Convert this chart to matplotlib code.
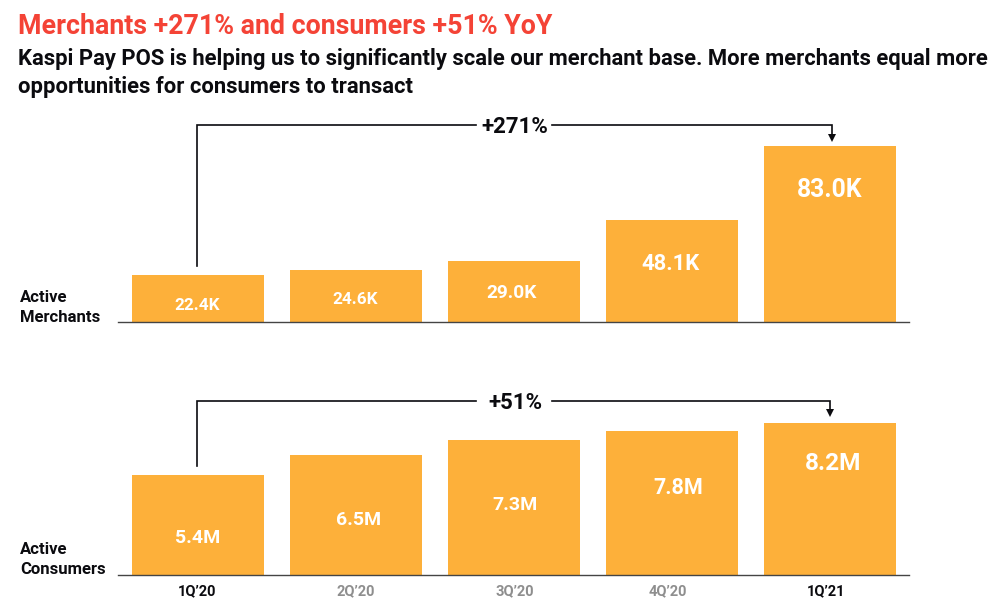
import matplotlib
matplotlib.use("Agg")
import matplotlib.pyplot as plt
from matplotlib.lines import Line2D
from matplotlib.patches import Polygon

# ------------------ DATA ------------------
quarters = ["1Q'20", "2Q'20", "3Q'20", "4Q'20", "1Q'21"]
merchants = [22.4, 24.6, 29.0, 48.1, 83.0]
consumers = [5.4, 6.5, 7.3, 7.8, 8.2]
merchant_labels = ["22.4K", "24.6K", "29.0K", "48.1K", "83.0K"]
consumer_labels = ["5.4M", "6.5M", "7.3M", "7.8M", "8.2M"]
merchant_growth = "+271%"
consumer_growth = "+51%"

W, H = 1000, 607
ORANGE = "#FDB03A"
RED = "#F44336"
BLACK = "#0B0B0F"
GREY = "#8E8E8E"

plt.rcParams["font.family"] = ["Roboto", "DejaVu Sans"]

fig = plt.figure(figsize=(W / 100, H / 100), dpi=100)


def px(x, y):
    return x / W, 1 - y / H


def panel(values, labels, base, scale, label_x, label_y, sizes):
    # axes spans the baseline width, 200px tall
    ax = fig.add_axes([118 / W, 1 - base / H, (909 - 118) / W, 200 / H])
    ax.set_xlim((118 - 197.5) / 158, (909 - 197.5) / 158)
    ax.set_ylim(0, 200 / scale)
    ax.bar(range(5), values, width=132 / 158, color=ORANGE)
    for i, lab in enumerate(labels):
        fig.text(*px(label_x[i], label_y[i]), lab, color="white", fontweight="bold",
                 fontsize=sizes[i], ha="center", va="center")
    ax.set_yticks([])
    ax.set_xticks([])
    for s in ["top", "left", "right"]:
        ax.spines[s].set_visible(False)
    ax.spines["bottom"].set_color("#444444")
    ax.spines["bottom"].set_linewidth(1.0)
    ax.patch.set_alpha(0)
    return ax


def bracket(y_top, y_start, y_tip, x_end, label, text_x, size, gap_left, gap_right):
    pts = [([197, 197, gap_left], [y_start, y_top, y_top]),
           ([gap_right, x_end, x_end], [y_top, y_top, y_tip - 6])]
    for xs, ys in pts:
        fig.add_artist(Line2D([x / W for x in xs], [1 - y / H for y in ys],
                              color=BLACK, lw=1.2, solid_joinstyle="miter"))
    fig.add_artist(Polygon([px(x_end - 4, y_tip - 8), px(x_end + 4, y_tip - 8), px(x_end, y_tip)],
                           closed=True, color=BLACK, lw=0, transform=fig.transFigure))
    fig.text(*px(text_x, y_top + 2), label, color=BLACK, fontsize=size, fontweight="bold",
             ha="center", va="center")


panel(merchants, merchant_labels, 322, 2.12,
      [197, 355, 512, 671, 829.5], [305, 299, 293, 264, 190], [12.3, 12.3, 13.8, 15.8, 17.8])
panel(consumers, consumer_labels, 575, 18.5,
      [198, 359, 515, 678, 833], [538, 520, 505, 488, 464], [14, 14, 14, 15.5, 17.6])

bracket(125, 266, 142, 832, merchant_growth, 515, 16, 476, 552)
bracket(401, 466, 417, 830, consumer_growth, 515, 16, 476, 552)

# ------------------ TITLES ------------------
fig.text(*px(18, 27), "Merchants +271% and consumers +51% YoY", color=RED, fontsize=19.3,
         fontweight="bold", ha="left", va="center")
fig.text(*px(18, 59), "Kaspi Pay POS is helping us to significantly scale our merchant base. More merchants equal more",
         color=BLACK, fontsize=15.8, fontweight="bold", ha="left", va="center")
fig.text(*px(18, 87), "opportunities for consumers to transact", color=BLACK, fontsize=15.8,
         fontweight="bold", ha="left", va="center")

# ------------------ SIDE LABELS ------------------
for y, t in [(298, "Active"), (318, "Merchants"), (549, "Active"), (569, "Consumers")]:
    fig.text(*px(20, y), t, color=BLACK, fontsize=12, fontweight="bold", ha="left", va="center")

# ------------------ QUARTERS ------------------
quarter_x = [197, 356, 515, 668, 826.5]
for i, q in enumerate(quarters):
    fig.text(*px(quarter_x[i], 591), q.replace("'", "’"), color=BLACK if i in (0, 4) else GREY,
             fontsize=10.5, fontweight="bold", ha="center", va="center")

fig.savefig("out.png", dpi=100)
